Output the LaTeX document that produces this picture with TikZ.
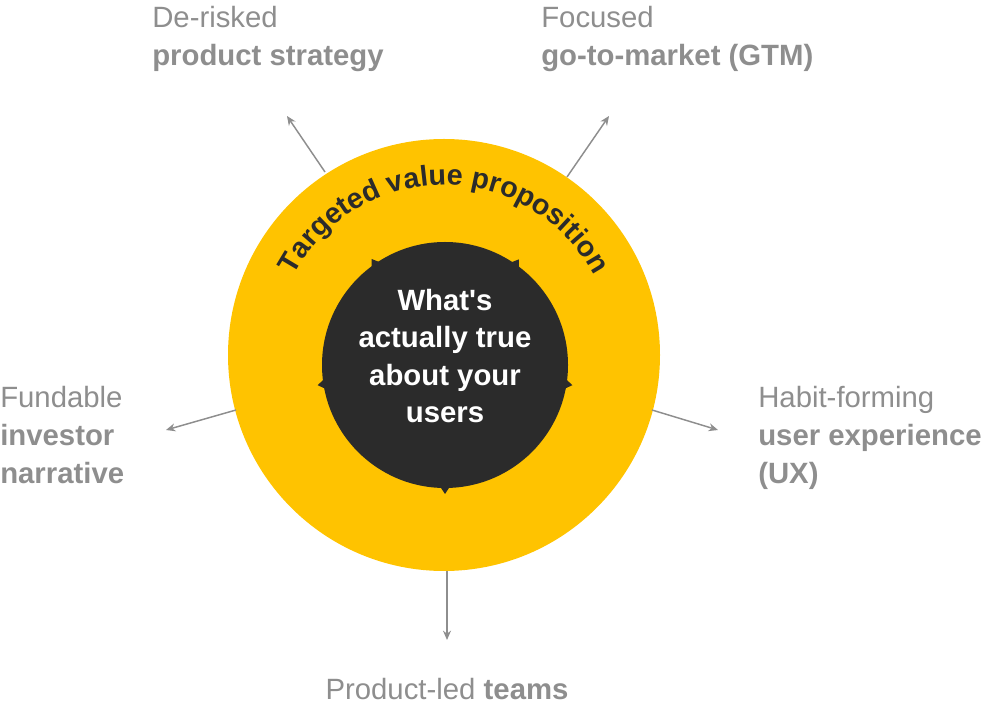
\documentclass[tikz,border=0pt]{standalone}
\usepackage{fontspec}
\setmainfont{Liberation Sans}
\usetikzlibrary{decorations.text,arrows.meta,calc}
\definecolor{gold}{HTML}{FFC300}
\definecolor{ink}{HTML}{2B2B2B}
\definecolor{gr}{HTML}{8E8E8E}
\begin{document}
\begin{tikzpicture}[x=0.75pt,y=0.75pt,
  lab/.style={text=gr,font=\fontsize{22}{28.5}\selectfont,align=left,inner sep=0},
  arr/.style={draw=gr,line width=1.1pt,-{Stealth[length=7pt,width=6pt]}}]
\useasboundingbox (0,0) rectangle (996,714);
\coordinate (c) at (444,359);
\node[circle,fill=gold,minimum size=432*0.75pt,inner sep=0] (outer) at (c) {};
\node[circle,fill=ink,minimum size=246*0.75pt,inner sep=0] (inner) at (445,349) {};
\foreach \a in {124.7,55,189,-9,-90}{
  \fill[ink] ($(445,349)+(\a:129)$) -- ($(445,349)+(\a+4:117)$) -- ($(445,349)+(\a-4:117)$) -- cycle;
}
\node[text=white,font=\bfseries\fontsize{22}{28}\selectfont,align=center] (core) at (445,358) {What\textquotesingle s\\actually true\\about your\\users};
\path[decorate,decoration={text along path,text align=center,
  text={|\bfseries\fontsize{21.5}{22}\selectfont\color{ink}|Targeted value proposition}}]
  (c) ++(163:170) arc (163:17:170);
% labels
\node[lab,anchor=north west] (l1) at (152,708) {De-risked\\\textbf{product strategy}};
\node[lab,anchor=north west] (l2) at (541,708) {Focused\\\textbf{go-to-market (GTM)}};
\node[lab,anchor=north west] (l3) at (0,328) {Fundable\\\textbf{investor}\\\textbf{narrative}};
\node[lab,anchor=north west] (l4) at (758,328) {Habit-forming\\\textbf{user experience}\\\textbf{(UX)}};
\node[lab,anchor=north] (l5) at (447,36) {Product-led \textbf{teams}};
\coordinate (e1) at (287,598); \coordinate (e2) at (609,598);
\coordinate (e3) at (166,284); \coordinate (e4) at (718,284); \coordinate (e5) at (447,74);
\draw[arr] (325,542) -- (e1);
\draw[arr] (567,537) -- (e2);
\draw[arr] (236,304) -- (e3);
\draw[arr] (652,304) -- (e4);
\draw[arr] (447,143) -- (e5);
\end{tikzpicture}
\end{document}
